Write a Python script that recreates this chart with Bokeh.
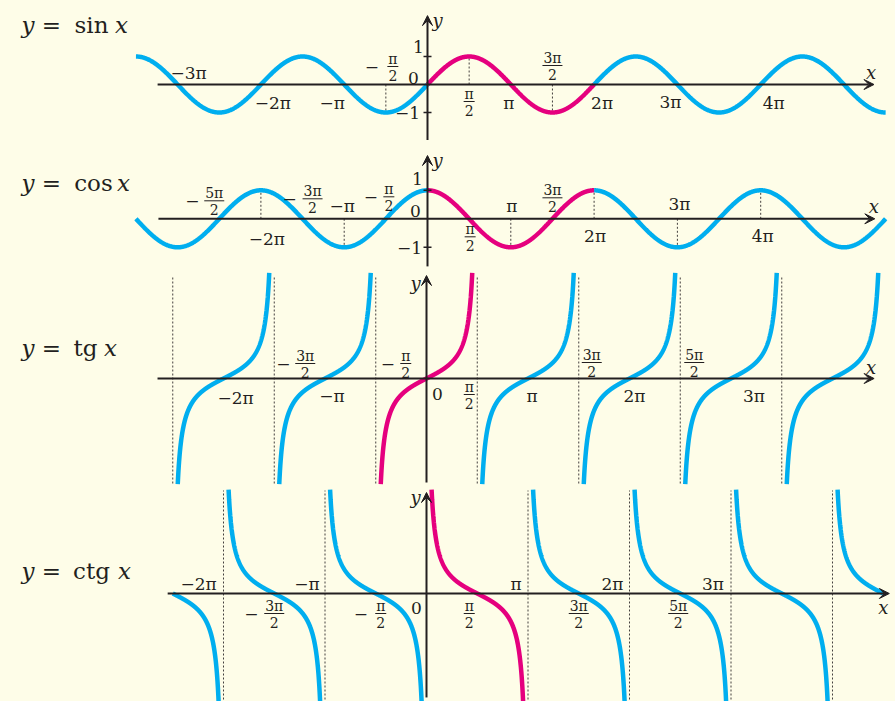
import numpy as np
from bokeh.plotting import figure
from bokeh.layouts import column
from bokeh.models import Range1d, Arrow, VeeHead
from bokeh.core.properties import value
from bokeh.embed import file_html
from bokeh.resources import INLINE

PI = np.pi
BG = "#FEFDE8"
BLUE = "#00AEEF"
PINK = "#E5007E"
INK = "#231F20"
FONT = "DejaVu Serif"
W = 895

# ---------------- data (x values are multiples of pi) ----------------
SIN_SPAN = (-3.5, 5.5)
SIN_PINK = (0.0, 2.0)
SIN_DROPS = [(-0.5, -1.0), (0.5, 1.0), (1.5, -1.0)]
SIN_LABELS = [(-3, "−3π", 11, -12), (-2, "−2π", 12, 18), (-1, "−π", -12, 18),
              (1, "π", -2, 18), (2, "2π", 8, 18), (3, "3π", -7, 17), (4, "4π", 13, 18)]
SIN_FRACS = [(-0.5, "π", "2", 7, -18, -14), (0.5, "π", "2", 0, 17, None),
             (1.5, "3π", "2", 0, -19, None)]

COS_SPAN = (-3.5, 5.5)
COS_PINK = (0.0, 2.0)
COS_DROPS = [(-2, 1.0), (-1, -1.0), (1, -1.0), (2, 1.0), (3, -1.0), (4, 1.0)]
COS_LABELS = [(-2, "−2π", 6, 20), (-1, "−π", -2, -13), (1, "π", 1, -13),
              (2, "2π", 1, 17), (3, "3π", 2, -15), (4, "4π", 2, 17)]
COS_FRACS = [(-2.5, "5π", "2", -5, -18, -27), (-1.5, "3π", "2", 10, -20, -13),
             (-0.5, "π", "2", 3, -22, -15), (0.5, "π", "2", 1, 18, None),
             (1.5, "3π", "2", 0, -21, None)]

TG_CENTERS = [-2, -1, 1, 2, 3, 4]
TG_PINK_CENTER = 0
TG_LIMIT = 6.4
TG_ASYMPTOTES = [-2.5, -1.5, -0.5, 0.5, 1.5, 2.5, 3.5]
TG_LABELS = [(-2, "−2π", 12, 19), (-1, "−π", 7, 17), (1, "π", 4, 17),
             (2, "2π", 5, 17), (3, "3π", 23, 17)]
TG_FRACS = [(-1.5, "3π", "2", 31, -15, 9), (-0.5, "π", "2", 30, -15, 12),
            (0.5, "π", "2", -8, 16, None), (1.5, "3π", "2", 13, -16, None),
            (2.5, "5π", "2", 14, -16, None)]

CTG_BRANCHES = [(-2.5, -2), (-2, -1), (-1, 0), (1, 2), (2, 3), (3, 4), (4, 4.5)]
CTG_PINK = (0, 1)
CTG_TOP = 6.3
CTG_BOTTOM = 8.0
CTG_ASYMPTOTES = [-2, -1, 1, 2, 3, 4]
CTG_LABELS = [(-2, "−2π", -25, -10), (-1, "−π", -18, -10), (1, "π", -12, -10),
              (2, "2π", -17, -10), (3, "3π", -18, -10)]
CTG_FRACS = [(-1.5, "3π", "2", 0, 20, -23), (-0.5, "π", "2", 5, 20, -15),
             (0.5, "π", "2", -8, 20, None), (1.5, "3π", "2", 0, 20, None),
             (2.5, "5π", "2", -2, 20, None)]

TITLES = [("sin", 91), ("cos", 93), ("tg", 85), ("ctg", 91)]
TITLE_X_POS = [121, 123, 110, 124]

# ---------------- helpers ----------------
class Panel:
    def __init__(self, h, ox, oy, ppi, ppu):
        self.ppr = ppi / PI
        self.ppu = ppu
        self.ox, self.oy, self.h = ox, oy, h
        p = figure(width=W, height=h,
                   x_range=Range1d(-ox / self.ppr, (W - ox) / self.ppr),
                   y_range=Range1d(-(h - oy) / ppu, oy / ppu),
                   output_backend="svg", toolbar_location=None,
                   x_axis_location=None, y_axis_location=None, min_border=0,
                   background_fill_color=BG, border_fill_color=BG,
                   outline_line_color=None)
        p.grid.visible = False
        self.p = p

    def dx(self, px):
        return px / self.ppr

    def dy(self, px):
        return px / self.ppu

    def curve(self, x, y, color):
        self.p.line(x, y, line_color=color, line_width=4.5)

    def text(self, xs, ys, texts, size, xo=0, yo=0, style="normal", align="center",
             baseline="middle"):
        self.p.text(x=xs, y=ys, text=texts, text_font=value(FONT),
                    text_font_size=f"{size}px", text_color=INK, text_align=align,
                    text_baseline=baseline, x_offset=xo, y_offset=yo,
                    text_font_style=style)

    def axes(self, x_from, x_to, y_from, y_to, xlab, ylab):
        a = Arrow(end=VeeHead(size=10, fill_color=INK, line_color=INK, line_width=1),
                  x_start=x_from * PI, y_start=0, x_end=x_to * PI, y_end=0,
                  line_color=INK, line_width=2)
        b = Arrow(end=VeeHead(size=10, fill_color=INK, line_color=INK, line_width=1),
                  x_start=0, y_start=y_from, x_end=0, y_end=y_to,
                  line_color=INK, line_width=2)
        self.p.add_layout(a)
        self.p.add_layout(b)
        self.text([x_to * PI], [0], ["x"], 18, xlab[0], xlab[1], style="italic")
        self.text([0], [y_to], ["y"], 18, ylab[0], ylab[1], style="italic")

    def labels(self, items):
        self.text([v * PI for v, *_ in items], [0] * len(items),
                  [t for _, t, _, _ in items], 17,
                  [d for _, _, d, _ in items], [e for *_, e in items])

    def fracs(self, items):
        for v, num, den, fx, by, mx in items:
            x = v * PI
            self.text([x], [0], [num], 14, fx, by - 7.5)
            self.text([x], [0], [den], 14, fx, by + 8.5)
            w = 11 if len(num) == 1 else 20
            yb = -self.dy(by)
            self.p.segment(x0=[x + self.dx(fx - w / 2)], x1=[x + self.dx(fx + w / 2)],
                           y0=[yb], y1=[yb], line_color=INK, line_width=1)
            if mx is not None:
                self.text([x], [0], ["−"], 17, mx, by)

    def vdash(self, xs, y0s, y1s):
        self.p.segment(x0=xs, x1=xs, y0=y0s, y1=y1s, line_color=INK,
                       line_width=1, line_dash="2 2", line_alpha=0.85)

    def title(self, idx, base_px):
        name, cx = TITLES[idx]
        y = self.dy(self.oy - base_px)
        X = lambda px: self.dx(px - self.ox)
        self.text([X(27.5)], [y], ["y"], 23, style="italic", baseline="alphabetic")
        self.text([X(51)], [y], ["="], 23, baseline="alphabetic")
        self.text([X(cx)], [y], [name], 23, baseline="alphabetic")
        self.text([X(TITLE_X_POS[idx])], [y], ["x"], 23, style="italic",
                  baseline="alphabetic")


def span(a, b, n=600):
    return np.linspace(a * PI, b * PI, n)


# ---------------- y = sin x ----------------
S = Panel(140, 427, 84, 83.3, 28)
S.vdash([v * PI for v, _ in SIN_DROPS], [0] * len(SIN_DROPS), [e for _, e in SIN_DROPS])
for a, b in [(SIN_SPAN[0], SIN_PINK[0]), (SIN_PINK[1], SIN_SPAN[1])]:
    x = span(a, b)
    S.curve(x, np.sin(x), BLUE)
x = span(*SIN_PINK)
S.curve(x, np.sin(x), PINK)
S.axes(-3.24, 5.36, -2.0, 2.46, (-3, -12), (10, 5))
S.p.segment(x0=[-S.dx(4)] * 2, x1=[S.dx(4)] * 2, y0=[1, -1], y1=[1, -1],
            line_color=INK, line_width=1.5)
S.labels(SIN_LABELS)
S.fracs(SIN_FRACS)
S.text([0, 0, 0], [0, 1, -1], ["0", "1", "−1"], 17, [-14, -9, -20], [-7, -10, 0])
S.title(0, 24)

# ---------------- y = cos x ----------------
C = Panel(130, 427, 78.3, 83.3, 28.5)
C.vdash([v * PI for v, _ in COS_DROPS], [0] * len(COS_DROPS), [e for _, e in COS_DROPS])
for a, b in [(COS_SPAN[0], COS_PINK[0]), (COS_PINK[1], COS_SPAN[1])]:
    x = span(a, b)
    C.curve(x, np.cos(x), BLUE)
x = span(*COS_PINK)
C.curve(x, np.cos(x), PINK)
C.axes(-3.23, 5.37, -1.67, 2.22, (-1, -12), (10, 5))
C.p.segment(x0=[-C.dx(4)] * 2, x1=[C.dx(4)] * 2, y0=[1, -1], y1=[1, -1],
            line_color=INK, line_width=1.5)
C.labels(COS_LABELS)
C.fracs(COS_FRACS)
C.text([0, 0, 0], [0, 1, -1], ["0", "1", "−1"], 17, [-12, -10, -18], [-8, -11, 1])
C.title(1, 42.5)

# ---------------- y = tg x ----------------
T = Panel(217, 426, 108, 101.5, 16.5)
T.vdash([v * PI for v in TG_ASYMPTOTES], [T.dy(-105)] * len(TG_ASYMPTOTES),
        [T.dy(103)] * len(TG_ASYMPTOTES))
half = np.arctan(TG_LIMIT)
for c in TG_CENTERS:
    x = np.linspace(c * PI - half, c * PI + half, 900)
    T.curve(x, np.tan(x - c * PI), BLUE)
x = np.linspace(TG_PINK_CENTER * PI - half, TG_PINK_CENTER * PI + half, 900)
T.curve(x, np.tan(x), PINK)
T.axes(-2.65, 4.41, -6.3, 6.24, (-3, -11), (-11, 8))
T.labels(TG_LABELS)
T.fracs(TG_FRACS)
T.text([0], [0], ["0"], 17, 11, 15)
T.title(2, 347 - 270)

# ---------------- y = ctg x ----------------
K = Panel(214, 426, 106, 101.5, 16.5)
K.vdash([v * PI for v in CTG_ASYMPTOTES], [K.dy(-110)] * len(CTG_ASYMPTOTES),
        [K.dy(103)] * len(CTG_ASYMPTOTES))


def ctg_branch(a, b):
    lo = a * PI + (np.arctan(1 / CTG_TOP) if float(a).is_integer() else 0)
    hi = b * PI - (np.arctan(1 / CTG_BOTTOM) if float(b).is_integer() else 0)
    x = np.linspace(lo, hi, 900)
    return x, 1 / np.tan(x)


for a, b in CTG_BRANCHES:
    K.curve(*ctg_branch(a, b), BLUE)
K.curve(*ctg_branch(*CTG_PINK), PINK)
K.axes(-2.55, 4.56, -6.3, 6.12, (-6, 14), (-11, 5))
K.labels(CTG_LABELS)
K.fracs(CTG_FRACS)
K.text([0], [0], ["0"], 17, -10, 14)
K.title(3, 570 - 487)

layout = column(S.p, C.p, T.p, K.p, spacing=0)
html = file_html(layout, INLINE, title="Graphs of trigonometric functions")
html = html.replace("<head>", "<head><style>html,body{margin:0;padding:0;overflow:hidden;background:%s;}</style>" % BG, 1)
open("out.html", "w").write(html)
